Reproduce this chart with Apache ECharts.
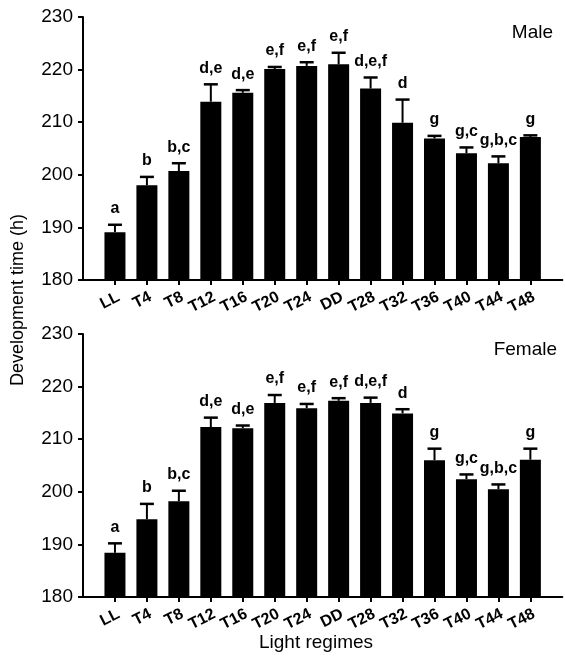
<!DOCTYPE html>
<html>
<head>
<meta charset="utf-8">
<script src="https://cdn.jsdelivr.net/npm/echarts@6/dist/echarts.min.js"></script>
<style>html,body{margin:0;padding:0;background:#fff}#c{width:565px;height:658px}</style>
</head>
<body>
<div id="c"></div>
<script>
const categories = ['LL','T4','T8','T12','T16','T20','T24','DD','T28','T32','T36','T40','T44','T48'];
const maleMean = [189.1, 198.0, 200.7, 213.9, 215.6, 220.1, 220.7, 221.0, 216.4, 209.9, 206.9, 204.1, 202.2, 207.2];
const maleErr = [1.4, 1.6, 1.5, 3.3, 0.5, 0.4, 0.7, 2.2, 2.1, 4.4, 0.5, 1.1, 1.3, 0.3];
const maleLetters = ['a','b','b,c','d,e','d,e','e,f','e,f','e,f','d,e,f','d','g','g,c','g,b,c','g'];
const femaleMean = [188.4, 194.8, 198.2, 212.3, 212.1, 216.9, 215.9, 217.3, 216.9, 214.9, 206.0, 202.4, 200.5, 206.1];
const femaleErr = [1.8, 2.9, 2.0, 1.8, 0.5, 1.5, 0.8, 0.5, 1.0, 0.8, 2.2, 0.9, 0.9, 2.1];
const femaleLetters = ['a','b','b,c','d,e','d,e','e,f','e,f','e,f','d,e,f','d','g','g,c','g,b,c','g'];
const yTicks = [180, 190, 200, 210, 220, 230];

const FONT = 'Arial, "Liberation Sans", sans-serif';
const padded = [''].concat(categories, ['']);
const nPad = padded.length;

function xAxis(gi) {
  return {
    type: 'category', gridIndex: gi, data: padded, boundaryGap: false,
    axisLine: { lineStyle: { color: '#000', width: 2 } },
    axisTick: { show: true, length: 5, lineStyle: { color: '#000', width: 2 },
      interval: (i) => i > 0 && i < nPad - 1 },
    axisLabel: { interval: 0, rotate: 27, margin: 9, align: 'right', verticalAlign: 'top',
      color: '#000', fontWeight: 'bold', fontSize: 16, fontFamily: FONT },
    splitLine: { show: false }
  };
}
function yAxis(gi) {
  return {
    type: 'value', gridIndex: gi, min: yTicks[0], max: yTicks[yTicks.length - 1], interval: 10,
    axisLine: { show: true, lineStyle: { color: '#000', width: 2 } },
    axisTick: { show: true, length: 5, lineStyle: { color: '#000', width: 2 } },
    axisLabel: { color: '#000', fontSize: 19, margin: 10, fontFamily: FONT },
    splitLine: { show: false }
  };
}
function barSeries(gi, mean) {
  return {
    type: 'bar', xAxisIndex: gi, yAxisIndex: gi, barWidth: 21,
    itemStyle: { color: '#000' },
    data: ['-'].concat(mean, ['-'])
  };
}
function errSeries(gi, mean, err, letters) {
  return {
    type: 'custom', xAxisIndex: gi, yAxisIndex: gi, clip: false, z: 5,
    encode: { x: 0, y: 1 },
    data: mean.map((m, i) => [i + 1, m, m + err[i]]),
    renderItem: function (params, api) {
      const p = api.coord([api.value(0), api.value(1)]);
      const t = api.coord([api.value(0), api.value(2)]);
      return {
        type: 'group', children: [
          { type: 'line', shape: { x1: p[0], y1: p[1], x2: t[0], y2: t[1] }, style: { stroke: '#000', lineWidth: 2 } },
          { type: 'line', shape: { x1: t[0] - 7, y1: t[1], x2: t[0] + 7, y2: t[1] }, style: { stroke: '#000', lineWidth: 2.5 } },
          { type: 'text', x: t[0], y: t[1] - 8, style: { text: letters[params.dataIndex], textAlign: 'center', textVerticalAlign: 'bottom', font: 'bold 16px ' + FONT, fill: '#000' } }
        ]
      };
    }
  };
}

const chart = echarts.init(document.getElementById('c'), null, { renderer: 'canvas' });
chart.setOption({
  animation: false,
  backgroundColor: '#fff',
  grid: [
    { left: 83, right: 1, top: 17, height: 263 },
    { left: 83, right: 1, top: 334, height: 263 }
  ],
  xAxis: [xAxis(0), xAxis(1)],
  yAxis: [yAxis(0), yAxis(1)],
  series: [
    barSeries(0, maleMean), errSeries(0, maleMean, maleErr, maleLetters),
    barSeries(1, femaleMean), errSeries(1, femaleMean, femaleErr, femaleLetters)
  ],
  graphic: [
    { type: 'text', right: 12, top: 23, style: { text: 'Male', font: '19px ' + FONT, fill: '#000' } },
    { type: 'text', right: 8, top: 340, style: { text: 'Female', font: '19px ' + FONT, fill: '#000' } },
    { type: 'text', x: 18, y: 300, rotation: Math.PI / 2, style: { text: 'Development time (h)', font: '18px ' + FONT, fill: '#000', textAlign: 'center', textVerticalAlign: 'middle' } },
    { type: 'text', x: 316, y: 643, style: { text: 'Light regimes', font: '19px ' + FONT, fill: '#000', textAlign: 'center', textVerticalAlign: 'middle' } }
  ]
});
</script>
</body>
</html>
